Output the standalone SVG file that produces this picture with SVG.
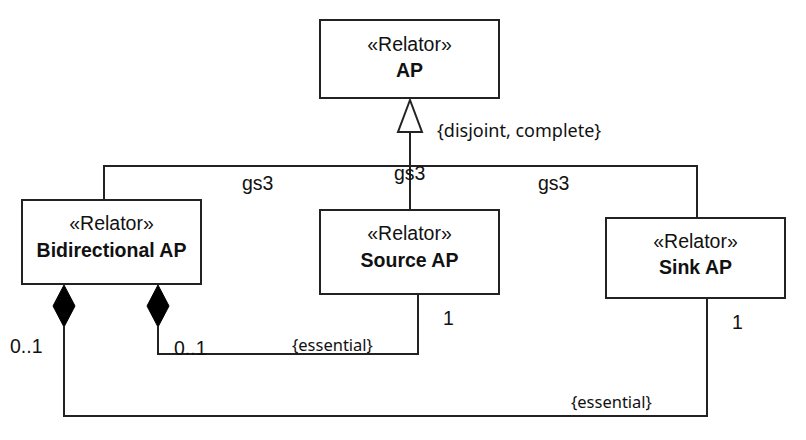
<svg xmlns="http://www.w3.org/2000/svg" width="806" height="440" viewBox="0 0 806 440">
<style>
.box{fill:#fff;stroke:#222;stroke-width:2}
.ln{fill:none;stroke:#222;stroke-width:2}
.st{font-family:"Liberation Sans",Arial,sans-serif;font-size:19.5px;fill:#111;text-anchor:middle}
.nm{font-family:"Liberation Sans",Arial,sans-serif;font-size:19.5px;font-weight:bold;fill:#111;text-anchor:middle}
.lb{font-family:"Liberation Sans",Arial,sans-serif;font-size:19.5px;fill:#111}
.cs{font-family:"Noto Sans","Open Sans",sans-serif;font-size:18px;fill:#111}
.es{font-family:"Noto Sans","Open Sans",sans-serif;font-size:16.5px;fill:#111}
</style>
<rect width="806" height="440" fill="#fff"/>
<g id="connectors">
<path class="ln" d="M410,132 V210"/>
<polygon points="410,100 398,132 422,132" fill="#fff" stroke="#222" stroke-width="2"/>
<path class="ln" d="M104,200 V166 H697 V218"/>
<path class="ln" d="M64,327 V416 H707 V298"/>
<polygon points="64,285 75,306 64,327 53,306" fill="#000" stroke="#000" stroke-width="1"/>
<path class="ln" d="M158,327 V354 H418 V294"/>
<polygon points="158,285 169,306 158,327 147,306" fill="#000" stroke="#000" stroke-width="1"/>
<text class="cs" x="437" y="137">{disjoint, complete}</text>
<text class="lb" x="242" y="190">gs3</text>
<text class="lb" x="394" y="180">gs3</text>
<text class="lb" x="538" y="190">gs3</text>
<text class="lb" x="10" y="353">0..1</text>
<text class="lb" x="174" y="355">0..1</text>
<text class="es" x="292" y="351">{essential}</text>
<text class="lb" x="443" y="325">1</text>
<text class="lb" x="732" y="329">1</text>
<text class="es" x="571" y="408">{essential}</text>
</g>
<g id="ap">
<rect class="box" x="320" y="20" width="179" height="78"/>
<text class="st" x="409.5" y="51">«Relator»</text>
<text class="nm" x="409.5" y="77">AP</text>
</g>
<g id="bidirectional-ap">
<rect class="box" x="22" y="200" width="179" height="84"/>
<text class="st" x="111.5" y="230">«Relator»</text>
<text class="nm" x="111.5" y="257">Bidirectional AP</text>
</g>
<g id="source-ap">
<rect class="box" x="320" y="210" width="179" height="84"/>
<text class="st" x="409.5" y="240">«Relator»</text>
<text class="nm" x="409.5" y="267">Source AP</text>
</g>
<g id="sink-ap">
<rect class="box" x="606" y="218" width="179" height="80"/>
<text class="st" x="695.5" y="248">«Relator»</text>
<text class="nm" x="695.5" y="274">Sink AP</text>
</g>
</svg>
